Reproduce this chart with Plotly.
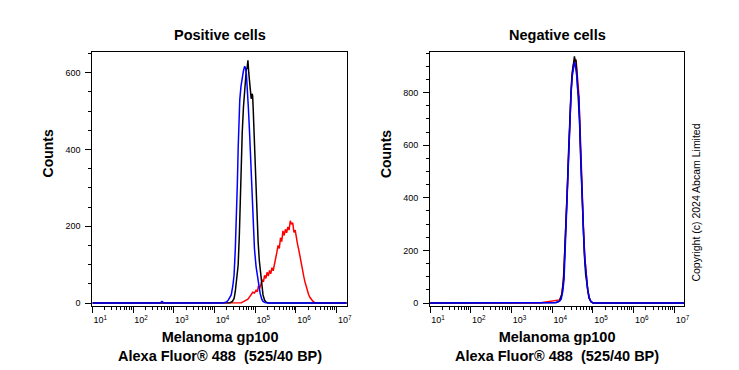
import plotly.graph_objects as go

W, H = 739, 370

# ---------------- data (x in log10 units of fluorescence, y = counts) ----------------
pos_red_log = [1.00, 4.60, 4.66, 4.70, 4.74, 4.78, 4.82, 4.86, 4.90, 4.94, 4.98, 5.02, 5.05, 5.08, 5.11,
               5.14, 5.17, 5.20, 5.23, 5.26, 5.29, 5.32, 5.35, 5.38, 5.41, 5.44, 5.47, 5.50, 5.53, 5.56,
               5.59, 5.62, 5.65, 5.68, 5.71, 5.74, 5.77, 5.80, 5.83, 5.86, 5.89, 5.92, 5.95, 5.98, 6.01,
               6.04, 6.07, 6.10, 6.13, 6.16, 6.19, 6.22, 6.25, 6.28, 6.31, 6.34, 6.38, 6.42, 6.46, 6.50, 7.25]
pos_red_cnt = [0, 0, 1, 3, 5, 8, 10, 16, 22, 28, 26, 33, 29, 45, 38,
               52, 61, 55, 72, 64, 80, 70, 85, 76, 92, 84, 98, 110, 132, 150,
               142, 170, 160, 188, 176, 192, 183, 198, 190, 214, 205, 209, 184, 190, 166,
               152, 138, 118, 104, 90, 70, 55, 42, 30, 22, 15, 8, 4, 1, 0, 0]

pos_black_log = [1.00, 4.30, 4.38, 4.44, 4.48, 4.51, 4.55, 4.58, 4.61, 4.63, 4.66, 4.68, 4.71, 4.74, 4.76,
                 4.78, 4.80, 4.82, 4.84, 4.86, 4.88, 4.90, 4.92, 4.935, 4.95, 4.97, 4.98, 5.00, 5.02,
                 5.05, 5.07, 5.10, 5.13, 5.16, 5.19, 5.23, 5.27, 5.32, 7.25]
pos_black_cnt = [0, 0, 1, 4, 12, 30, 62, 99, 180, 272, 370, 444, 510, 556, 590,
                 608, 612, 632, 600, 573, 540, 532, 545, 540, 504, 450, 401, 330, 272,
                 205, 160, 110, 73, 42, 21, 7, 2, 0, 0]

pos_blue_log = [1.00, 2.66, 2.71, 2.76, 4.20, 4.26, 4.30, 4.34, 4.38, 4.41, 4.45, 4.48, 4.51, 4.54, 4.56,
                4.58, 4.60, 4.62, 4.65, 4.68, 4.71, 4.74, 4.76, 4.78, 4.80, 4.83, 4.86, 4.89, 4.93,
                4.96, 4.98, 5.02, 5.07, 5.12, 5.16, 5.19, 5.24, 5.30, 7.25]
pos_blue_cnt = [0, 0, 4, 0, 0, 1, 3, 8, 14, 21, 45, 73, 140, 228, 310,
                401, 470, 530, 565, 591, 605, 617, 612, 600, 573, 510, 444, 360, 272,
                200, 142, 95, 56, 25, 10, 4, 1, 0, 0]

neg_red_log = [1.00, 3.70, 3.80, 3.90, 3.98, 4.05, 4.12, 4.18, 4.23, 4.27, 4.30, 4.33, 4.36, 4.39, 4.42,
               4.45, 4.48, 4.51, 4.54, 4.565, 4.59, 4.62, 4.65, 4.68, 4.71, 4.74, 4.77, 4.80, 4.83,
               4.87, 4.91, 4.95, 5.00, 7.25]
neg_red_cnt = [0, 0, 3, 5, 8, 10, 9, 12, 30, 80, 170, 290, 410, 550, 680,
               790, 860, 900, 915, 928, 915, 870, 800, 680, 530, 390, 270, 175, 105,
               52, 20, 6, 0, 0]

neg_black_log = [1.00, 4.00, 4.10, 4.18, 4.24, 4.28, 4.31, 4.34, 4.37, 4.40, 4.43, 4.46, 4.49, 4.52,
                 4.545, 4.56, 4.58, 4.61, 4.64, 4.67, 4.70, 4.73, 4.76, 4.79, 4.82, 4.86, 4.90, 4.95,
                 5.00, 7.25]
neg_black_cnt = [0, 0, 2, 8, 35, 95, 190, 310, 430, 570, 700, 800, 870, 915,
                 938, 920, 925, 860, 790, 690, 540, 400, 280, 180, 110, 55, 20, 5,
                 0, 0]

neg_blue_log = [1.00, 3.90, 4.05, 4.12, 4.17, 4.22, 4.26, 4.29, 4.31, 4.34, 4.37, 4.40, 4.43, 4.46,
                4.49, 4.52, 4.545, 4.57, 4.60, 4.63, 4.655, 4.68, 4.71, 4.74, 4.77, 4.80, 4.83, 4.87,
                4.91, 4.95, 5.00, 5.05, 7.25]
neg_blue_cnt = [0, 0, 1, 3, 6, 15, 45, 90, 180, 300, 420, 560, 690, 790,
                860, 900, 915, 900, 865, 800, 785, 650, 500, 380, 260, 170, 100, 50,
                20, 6, 1, 0, 0]

decades = [1, 2, 3, 4, 5, 6, 7]
x_tick_text = ["10<sup>1</sup>", "10<sup>2</sup>", "10<sup>3</sup>", "10<sup>4</sup>",
               "10<sup>5</sup>", "10<sup>6</sup>", "10<sup>7</sup>"]
pos_y_ticks = [0, 200, 400, 600]
neg_y_ticks = [0, 200, 400, 600, 800]

panel_titles = ["Positive cells", "Negative cells"]
x_title = "Melanoma gp100<br>Alexa Fluor® 488\u00a0 (525/40 BP)"
y_title = "Counts"
copyright_text = "Copyright (c) 2024 Abcam Limited"

RED, BLACK, BLUE = "#ff0000", "#000000", "#0000ff"
FONT = "Arial, Liberation Sans, Helvetica, sans-serif"

def lin(logs):
    return [10 ** v for v in logs]

fig = go.Figure()
for xa, ya, series in [
    ("x", "y", [(pos_red_log, pos_red_cnt, RED), (pos_black_log, pos_black_cnt, BLACK), (pos_blue_log, pos_blue_cnt, BLUE)]),
    ("x2", "y2", [(neg_red_log, neg_red_cnt, RED), (neg_black_log, neg_black_cnt, BLACK), (neg_blue_log, neg_blue_cnt, BLUE)]),
]:
    for lx, cy, col in series:
        fig.add_trace(go.Scatter(x=lin(lx), y=cy, mode="lines", xaxis=xa, yaxis=ya,
                                 line=dict(color=col, width=1.5), showlegend=False, hoverinfo="skip"))

minor_vals = [m * 10 ** d for d in range(1, 7) for m in range(2, 10)]

def xaxis_cfg(domain):
    return dict(type="log", range=[1, 7.244], domain=domain, showline=True, linecolor="black",
                linewidth=1, mirror=True, ticks="outside", ticklen=6, tickwidth=1, tickcolor="black",
                tickmode="array", tickvals=lin(decades), ticktext=x_tick_text, ticklabelshift=8,
                tickfont=dict(family=FONT, size=9, color="black"), showgrid=False, zeroline=False,
                minor=dict(tickmode="array", tickvals=minor_vals, ticks="outside", ticklen=3,
                           tickcolor="black", tickwidth=1, showgrid=False))

def yaxis_cfg(rng, ticks, anchor):
    return dict(range=rng, domain=[(H - 308) / H, (H - 52) / H], anchor=anchor, showline=True,
                linecolor="black", linewidth=1, mirror=True, ticks="outside", ticklen=6, tickwidth=1,
                tickcolor="black", tickmode="array", tickvals=ticks, ticklabelstandoff=3,
                tickfont=dict(family=FONT, size=9, color="black"), showgrid=False, zeroline=False,
                minor=dict(dtick=50, tick0=0, ticks="outside", ticklen=3, tickcolor="black",
                           tickwidth=1, showgrid=False))

fig.update_layout(
    width=W, height=H, autosize=False, margin=dict(l=0, r=0, t=0, b=0),
    paper_bgcolor="white", plot_bgcolor="white", showlegend=False,
    xaxis=dict(**xaxis_cfg([93 / W, 349 / W]), anchor="y"),
    xaxis2=dict(**xaxis_cfg([433 / W, 689 / W]), anchor="y2"),
    yaxis=yaxis_cfg([-6.5, 655], pos_y_ticks, "x"),
    yaxis2=yaxis_cfg([-9.4, 955.7], neg_y_ticks, "x2"),
)

annots = []
for cx, title in zip([221, 561], panel_titles):
    annots.append(dict(x=cx / W, y=(H - 35.5) / H, xref="paper", yref="paper", text=f"<b>{title}</b>",
                       showarrow=False, xanchor="center", yanchor="middle",
                       font=dict(family=FONT, size=14.5, color="black")))
    annots.append(dict(x=cx / W, y=(H - 349) / H, xref="paper", yref="paper", text=f"<b>{x_title}</b>",
                       showarrow=False, xanchor="center", yanchor="middle",
                       font=dict(family=FONT, size=14.5, color="black")))
for cx in [48, 388]:
    annots.append(dict(x=cx / W, y=(H - 155) / H, xref="paper", yref="paper", text=f"<b>{y_title}</b>",
                       showarrow=False, textangle=-90, xanchor="center", yanchor="middle",
                       font=dict(family=FONT, size=14, color="black")))
annots.append(dict(x=701 / W, y=(H - 204) / H, xref="paper", yref="paper", text=copyright_text,
                   showarrow=False, textangle=-90, xanchor="center", yanchor="middle",
                   font=dict(family=FONT, size=10.5, color="black")))
fig.update_layout(annotations=annots)

fig.write_html("out.html", config={"displayModeBar": False},
               post_script="document.body.style.margin='0';document.body.style.overflow='hidden';")
